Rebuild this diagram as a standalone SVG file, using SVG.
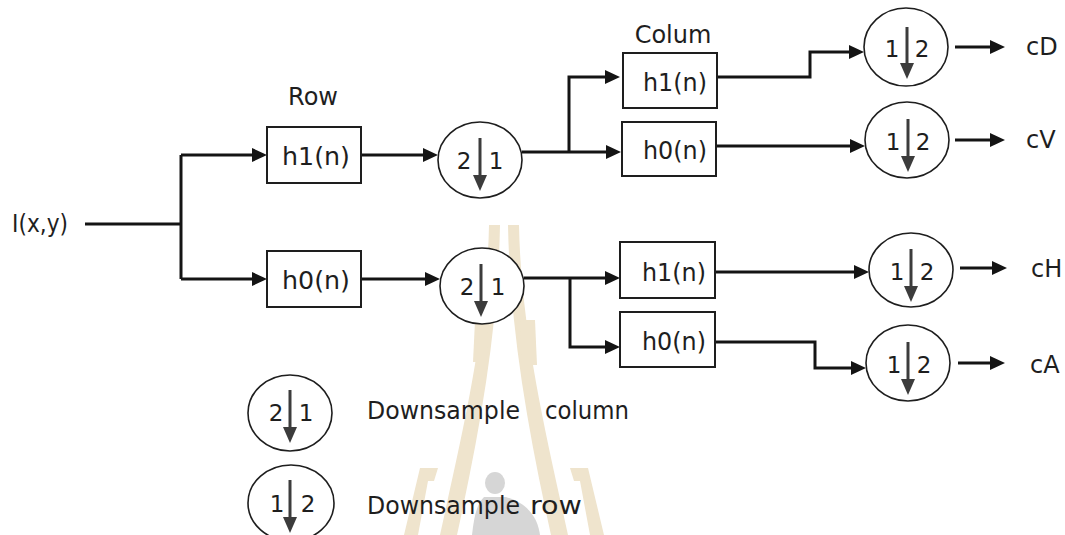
<svg xmlns="http://www.w3.org/2000/svg" width="1065" height="535" viewBox="0 0 1065 535">
<style>
.t{font-family:"DejaVu Sans","Liberation Sans",sans-serif;font-size:24px;fill:#1e1e1e}
.d{font-family:"DejaVu Sans","Liberation Sans",sans-serif;font-size:23px;fill:#1e1e1e;text-anchor:middle}
.box{fill:#fff;stroke:#1e1e1e;stroke-width:2}
.ds{fill:#fff;stroke:#1e1e1e;stroke-width:1.6}
.da{stroke:#3c3c3c;stroke-width:3}
.dh{fill:#3c3c3c}
.c{fill:none;stroke:#141414;stroke-width:3}
.wm{fill:#efe4cd}
</style>
<defs>
<marker id="ah" markerUnits="userSpaceOnUse" markerWidth="16" markerHeight="14" refX="7" refY="7" orient="auto">
<path d="M0,0 L15,7 L0,14 Z" fill="#141414"/>
</marker>
</defs>
<rect width="1065" height="535" fill="#fff"/>
<g id="watermark">
<path class="wm" d="M489,225 L500,225 C498,330 480,430 457,535 L440,535 C463,430 487,330 489,225 Z"/>
<path class="wm" d="M519,225 L508,225 C510,330 528,430 551,535 L568,535 C545,430 521,330 519,225 Z"/>
<path class="wm" d="M476,300 L489,300 L487,362 L473,362 Z"/>
<path class="wm" d="M520,320 L535,320 L537,365 L522,365 Z"/>
<path class="wm" d="M420,468 L438,468 L434,481 L428,481 L418,535 L404,535 Z"/>
<path class="wm" d="M588,468 L570,468 L574,481 L580,481 L590,535 L604,535 Z"/>
<ellipse cx="495" cy="483" rx="10" ry="11" fill="#d6d6d6"/>
<path d="M484,497 C476,505 474,518 472,535 L540,535 C538,520 530,504 506,497 Z" fill="#d6d6d6"/>
</g>
<g id="connectors">
<path class="c" d="M85,224 H181"/>
<path class="c" d="M181,155 V279"/>
<path class="c" d="M181,155 H259" marker-end="url(#ah)"/>
<path class="c" d="M181,279 H259" marker-end="url(#ah)"/>
<path class="c" d="M361,155 H430" marker-end="url(#ah)"/>
<path class="c" d="M361,279 H432" marker-end="url(#ah)"/>
<path class="c" d="M522,152 H613" marker-end="url(#ah)"/>
<path class="c" d="M569,152 V77 H612" marker-end="url(#ah)"/>
<path class="c" d="M717,77 H810 V52 H856" marker-end="url(#ah)"/>
<path class="c" d="M717,146 H857" marker-end="url(#ah)"/>
<path class="c" d="M524,278 H612" marker-end="url(#ah)"/>
<path class="c" d="M570,278 V347 H612" marker-end="url(#ah)"/>
<path class="c" d="M715,272 H861" marker-end="url(#ah)"/>
<path class="c" d="M715,342 H815 V368 H858" marker-end="url(#ah)"/>
<path class="c" d="M955,47 H997" marker-end="url(#ah)"/>
<path class="c" d="M955,140 H997" marker-end="url(#ah)"/>
<path class="c" d="M960,268 H999" marker-end="url(#ah)"/>
<path class="c" d="M958,363 H997" marker-end="url(#ah)"/>
</g>
<g id="input"><text class="t" x="12" y="232" textLength="56" lengthAdjust="spacingAndGlyphs">I(x,y)</text></g>
<g id="label-row"><text class="t" x="313" y="105" text-anchor="middle">Row</text></g>
<g id="label-colum"><text class="t" x="673" y="43" text-anchor="middle">Colum</text></g>
<g id="row-h1"><rect class="box" x="267" y="127" width="94" height="56"/><text class="t" x="282" y="165" textLength="68" lengthAdjust="spacingAndGlyphs">h1(n)</text></g>
<g id="row-h0"><rect class="box" x="267" y="251" width="94" height="56"/><text class="t" x="282" y="289" textLength="68" lengthAdjust="spacingAndGlyphs">h0(n)</text></g>
<g id="col-h1-top"><rect class="box" x="623" y="53" width="94" height="55"/><text class="t" x="643" y="91" textLength="64" lengthAdjust="spacingAndGlyphs">h1(n)</text></g>
<g id="col-h0-top"><rect class="box" x="622" y="122" width="94" height="54"/><text class="t" x="643" y="159" textLength="64" lengthAdjust="spacingAndGlyphs">h0(n)</text></g>
<g id="col-h1-bot"><rect class="box" x="620" y="242" width="95" height="56"/><text class="t" x="642" y="281" textLength="64" lengthAdjust="spacingAndGlyphs">h1(n)</text></g>
<g id="col-h0-bot"><rect class="box" x="620" y="312" width="95" height="55"/><text class="t" x="642" y="350" textLength="64" lengthAdjust="spacingAndGlyphs">h0(n)</text></g>
<g id="ds-col-top"><ellipse class="ds" cx="480" cy="160" rx="42" ry="38"/><text class="d" x="464" y="169">2</text><text class="d" x="496" y="169">1</text><line class="da" x1="480" y1="138" x2="480" y2="176"/><path class="dh" d="M473,175 L487,175 L480,191 Z"/></g>
<g id="ds-col-bot"><ellipse class="ds" cx="482" cy="286" rx="42" ry="38"/><text class="d" x="467" y="295">2</text><text class="d" x="498" y="295">1</text><line class="da" x1="481" y1="264" x2="481" y2="302"/><path class="dh" d="M474,301 L488,301 L481,317 Z"/></g>
<g id="ds-cD"><ellipse class="ds" cx="906" cy="47" rx="42" ry="39"/><text class="d" x="892" y="57">1</text><text class="d" x="922" y="57">2</text><line class="da" x1="907" y1="27" x2="907" y2="64"/><path class="dh" d="M900,63 L914,63 L907,79 Z"/></g>
<g id="ds-cV"><ellipse class="ds" cx="907" cy="140" rx="42" ry="38"/><text class="d" x="893" y="150">1</text><text class="d" x="923" y="150">2</text><line class="da" x1="908" y1="119" x2="908" y2="157"/><path class="dh" d="M901,156 L915,156 L908,172 Z"/></g>
<g id="ds-cH"><ellipse class="ds" cx="911" cy="270" rx="42" ry="37"/><text class="d" x="897" y="280">1</text><text class="d" x="927" y="280">2</text><line class="da" x1="911" y1="249" x2="911" y2="287"/><path class="dh" d="M904,286 L918,286 L911,302 Z"/></g>
<g id="ds-cA"><ellipse class="ds" cx="908" cy="363" rx="42" ry="38"/><text class="d" x="894" y="373">1</text><text class="d" x="924" y="373">2</text><line class="da" x1="908" y1="342" x2="908" y2="380"/><path class="dh" d="M901,379 L915,379 L908,395 Z"/></g>
<g id="out-cD"><text class="t" x="1026" y="55">cD</text></g>
<g id="out-cV"><text class="t" x="1026" y="148">cV</text></g>
<g id="out-cH"><text class="t" x="1031" y="277">cH</text></g>
<g id="out-cA"><text class="t" x="1030" y="373">cA</text></g>
<g id="legend-col"><ellipse class="ds" cx="290" cy="413" rx="42" ry="38"/><text class="d" x="276" y="421">2</text><text class="d" x="306" y="421">1</text><line class="da" x1="290" y1="390" x2="290" y2="428"/><path class="dh" d="M283,427 L297,427 L290,443 Z"/><text class="t" x="367" y="419" textLength="153" lengthAdjust="spacingAndGlyphs">Downsample</text><text class="t" x="545" y="419" textLength="84" lengthAdjust="spacingAndGlyphs">column</text></g>
<g id="legend-row"><ellipse class="ds" cx="291" cy="503" rx="43" ry="38"/><text class="d" x="277" y="512">1</text><text class="d" x="308" y="512">2</text><line class="da" x1="290" y1="480" x2="290" y2="518"/><path class="dh" d="M283,517 L297,517 L290,533 Z"/><text class="t" x="367" y="514" textLength="153" lengthAdjust="spacingAndGlyphs">Downsample</text><text class="t" x="530" y="514" textLength="52" lengthAdjust="spacingAndGlyphs">row</text></g>
</svg>
